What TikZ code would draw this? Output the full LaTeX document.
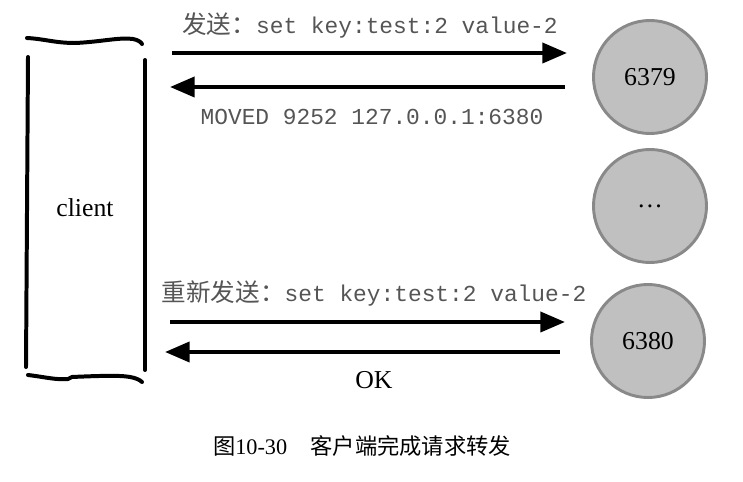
\documentclass[tikz,border=0pt]{standalone}
\usepackage{fontspec}
\setmainfont{Liberation Serif}
\setmonofont{Liberation Mono}
\newfontfamily\cjk{Noto Sans CJK SC}
\usetikzlibrary{arrows.meta}

\definecolor{Server}{HTML}{C0C0C0}
\definecolor{ServerBorder}{HTML}{898989}
\definecolor{Msg}{HTML}{555555}

\begin{document}
\begin{tikzpicture}[x=0.03cm, y=-0.03cm,
  server/.style={circle, fill=Server, draw=ServerBorder, line width=2.5pt, minimum size=3.39cm, inner sep=0pt, font=\fontsize{22}{24}\selectfont},
  msg/.style={line width=3.4pt, -{Triangle[length=21pt, width=17pt]}},
  msglabel/.style={inner sep=0pt, text=Msg, font=\fontsize{19.5}{22}\ttfamily},
  hand/.style={line width=3.4pt, line cap=round}]

 \useasboundingbox (0,0) rectangle (743,482);

 %%%%%%%%%% Points pour travailler %%%%%%%%%%
 \coordinate (s1) at (172,53);
 \coordinate (e1) at (567,53);
 \coordinate (s2) at (565,87);
 \coordinate (e2) at (170,87);
 \coordinate (s3) at (170,322);
 \coordinate (e3) at (565,322);
 \coordinate (s4) at (560,352);
 \coordinate (e4) at (165,352);

 %%%%%%%%%% Client %%%%%%%%%%
 \draw [hand] (27,38) .. controls (45,39) and (55,43) .. (75,43) .. controls (100,42) and (120,37) .. (133,39) .. controls (138,40) and (141,42) .. (142,44) ;
 \draw [hand] (28,57) -- (26,367) ;
 \draw [hand] (145,60) -- (145,370) ;
 \draw [hand] (28,375) .. controls (45,377) and (55,380) .. (68,379) -- (72,377) .. controls (95,376) and (120,375) .. (130,377) .. controls (136,378) and (140,380) .. (142,382) ;
 \node (client) at (85,208) {\fontsize{22}{24}\selectfont client};

 %%%%%%%%%% Servers %%%%%%%%%%
 \node[server] (n6379) at (650,77) {6379};
 \node[server] (ndots) at (650,206) {\dots};
 \node[server] (n6380) at (648,341) {6380};

 %%%%%%%%%% Messages %%%%%%%%%%
 \draw [msg] (s1) -- (e1) ;
 \draw [msg] (s2) -- (e2) ;
 \draw [msg] (s3) -- (e3) ;
 \draw [msg] (s4) -- (e4) ;

 \node[msglabel] (send) at (370,25) {{\cjk\fontsize{21}{22}\selectfont 发送：}set key:test:2 value-2};
 \node[msglabel] (moved) at (372,117) {MOVED 9252 127.0.0.1:6380};
 \node[msglabel] (resend) at (374,293) {{\cjk\fontsize{21}{22}\selectfont 重新发送：}set key:test:2 value-2};
 \node (ok) at (374,380) {\fontsize{22}{24}\selectfont OK};

 %%%%%%%%%% Caption %%%%%%%%%%
 \node (caption) at (362,446) {\fontsize{19}{22}\selectfont{\cjk 图}10-30\hspace{20pt}{\cjk 客户端完成请求转发}};

\end{tikzpicture}
\end{document}
